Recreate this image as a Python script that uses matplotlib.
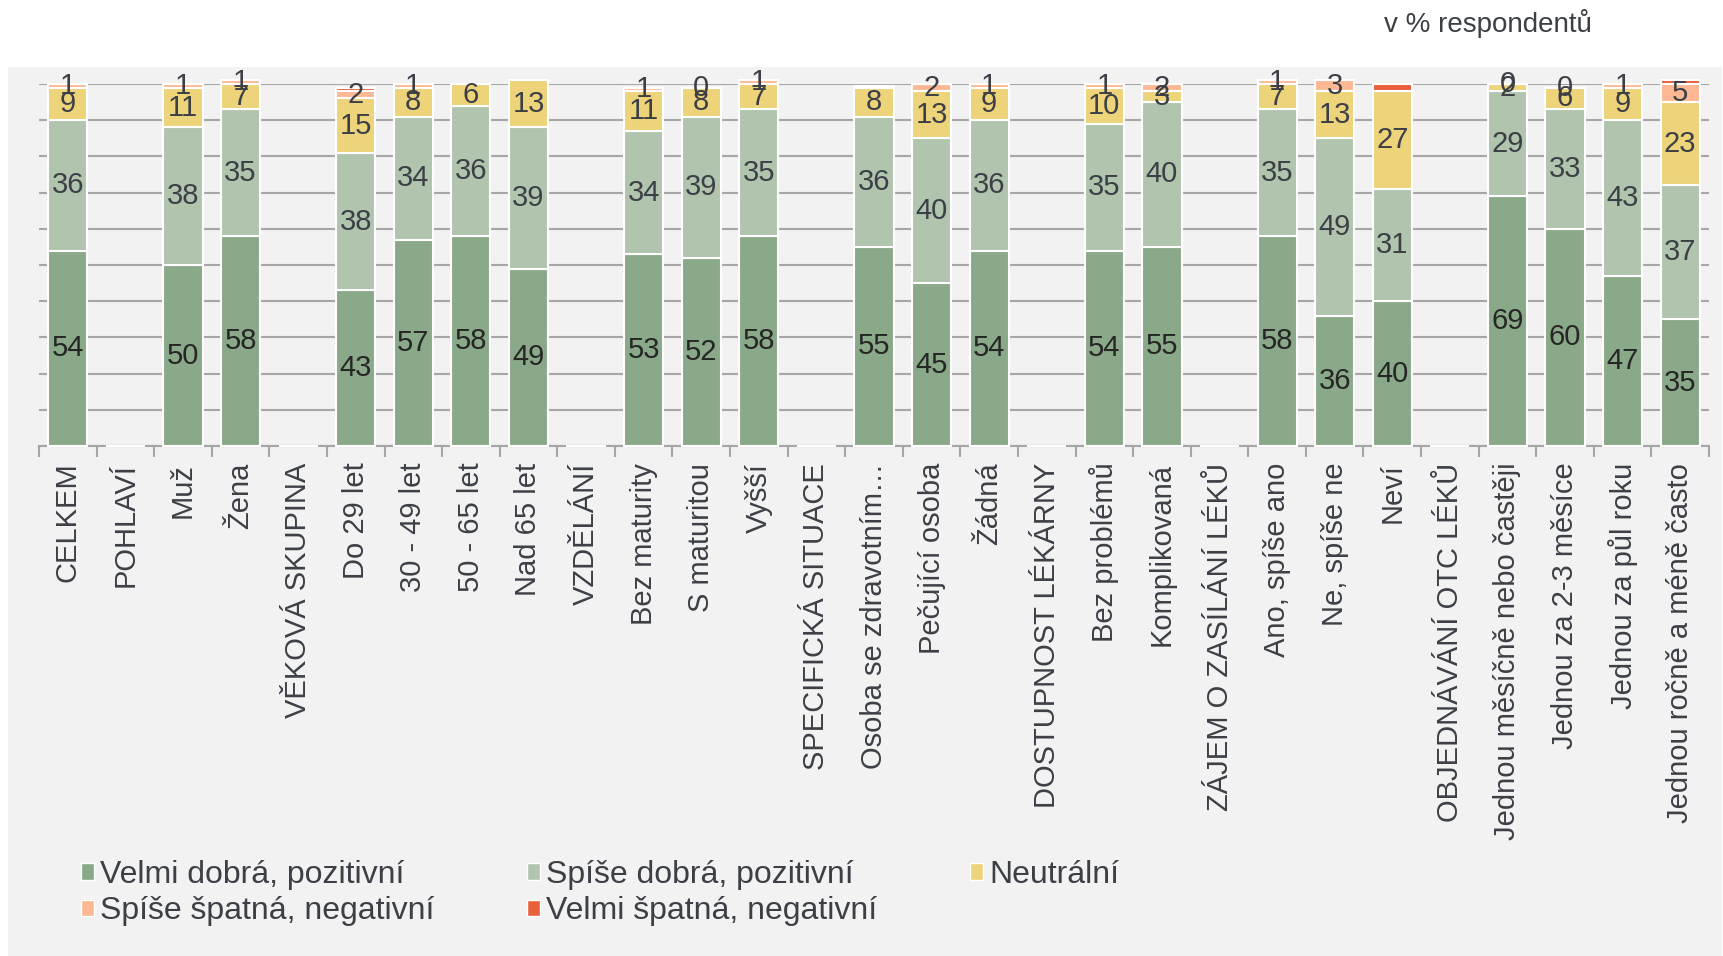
import numpy as np
import matplotlib.pyplot as plt
from matplotlib.patches import Rectangle, Patch

plt.rcParams['font.family'] = ['Liberation Sans', 'DejaVu Sans']

nan = np.nan
categories = ['CELKEM', 'POHLAVÍ', 'Muž', 'Žena', 'VĚKOVÁ SKUPINA', 'Do 29 let',
              '30 - 49 let', '50 - 65 let', 'Nad 65 let', 'VZDĚLÁNÍ', 'Bez maturity',
              'S maturitou', 'Vyšší', 'SPECIFICKÁ SITUACE', 'Osoba se zdravotním…',
              'Pečující osoba', 'Žádná', 'DOSTUPNOST LÉKÁRNY', 'Bez problémů',
              'Komplikovaná', 'ZÁJEM O ZASÍLÁNÍ LÉKŮ', 'Ano, spíše ano', 'Ne, spíše ne',
              'Neví', 'OBJEDNÁVÁNÍ OTC LÉKŮ', 'Jednou měsíčně nebo častěji',
              'Jednou za 2-3 měsíce', 'Jednou za půl roku', 'Jednou ročně a méně často']

velmi_dobra = [54, nan, 50, 58, nan, 43, 57, 58, 49, nan, 53, 52, 58, nan, 55, 45, 54,
               nan, 54, 55, nan, 58, 36, 40, nan, 69, 60, 47, 35]
spise_dobra = [36, nan, 38, 35, nan, 38, 34, 36, 39, nan, 34, 39, 35, nan, 36, 40, 36,
               nan, 35, 40, nan, 35, 49, 31, nan, 29, 33, 43, 37]
neutralni = [9, nan, 11, 7, nan, 15, 8, 6, 13, nan, 11, 8, 7, nan, 8, 13, 9,
             nan, 10, 3, nan, 7, 13, 27, nan, 2, 6, 9, 23]
spise_spatna = [1, nan, 1, 1, nan, 2, 1, nan, nan, nan, 1, 0, 1, nan, nan, 2, 1,
                nan, 1, 2, nan, 1, 3, nan, nan, 0, 0, 1, 5]
velmi_spatna = [0, nan, 0, 0, nan, 1, 0, 0, 0, nan, 0, 0, 0, nan, 0.5, 0, 0,
                nan, 0, 0, nan, 0, 0, 2, nan, 0, 0, 0, 1]

series = ['Velmi dobrá, pozitivní', 'Spíše dobrá, pozitivní', 'Neutrální',
          'Spíše špatná, negativní', 'Velmi špatná, negativní']
colors = ['#8aa989', '#b0c4ae', '#edd37a', '#fdb893', '#e8603c']
show_labels = [True, True, True, True, False]
label_colors = ['#262626', '#3c4046', '#3c4046', '#3c4046', '#3c4046']

W, H = 1724, 956
fig = plt.figure(figsize=(W / 100, H / 100), dpi=100)
fig.patch.set_facecolor('white')
fig.patches.append(Rectangle((8 / W, 0), (1722 - 8) / W, (956 - 67) / H,
                             transform=fig.transFigure, facecolor='#f2f2f2',
                             edgecolor='none', zorder=-10))

ax = fig.add_axes([39 / W, 1 - 446 / H, (1709 - 39) / W, (446 - 84) / H])
ax.set_facecolor('#f2f2f2')

x = np.arange(len(categories))
bottom = np.zeros(len(categories))
for vals, name, col, lab, tcol in zip(
        [velmi_dobra, spise_dobra, neutralni, spise_spatna, velmi_spatna],
        series, colors, show_labels, label_colors):
    v = np.array(vals, dtype=float)
    h = np.nan_to_num(v)
    ax.bar(x, h, bottom=bottom, width=0.68, color=col, edgecolor='white',
           linewidth=1.5, zorder=3, clip_on=False, label=name)
    if lab:
        for i in range(len(x)):
            if not np.isnan(v[i]):
                ax.text(x[i], bottom[i] + h[i] / 2, f'{v[i]:.0f}', ha='center',
                        va='center', fontsize=21, color=tcol, zorder=5)
    bottom += h

ax.set_ylim(0, 100)
ax.set_xlim(-0.5, len(categories) - 0.5)
ax.set_yticks(np.arange(0, 101, 10))
ax.yaxis.grid(True, color='#a6a6a6', linewidth=1.5, zorder=1)
ax.tick_params(axis='y', left=False, labelleft=False)
for s in ['left', 'right', 'top']:
    ax.spines[s].set_visible(False)
ax.spines['bottom'].set_color('#a6a6a6')
ax.spines['bottom'].set_linewidth(1.5)

ax.set_xticks(x)
ax.set_xticklabels(categories, rotation=90, fontsize=21, color='#3c4046',
                   va='top', ha='center')
ax.tick_params(axis='x', length=0, pad=12)
ax.set_xticks(np.arange(-0.5, len(categories) + 0.5, 1), minor=True)
ax.tick_params(axis='x', which='minor', length=8, width=1.5, color='#a6a6a6')

handles = [Patch(facecolor=c, edgecolor='white', linewidth=1) for c in colors]
order = [0, 3, 1, 4, 2]
fig.legend([handles[i] for i in order], [series[i] for i in order],
           loc='upper left', bbox_to_anchor=(65 / W, 1 - 844 / H), ncol=3,
           frameon=False, fontsize=23, handlelength=0.4, handleheight=0.4,
           handletextpad=0.2, columnspacing=2.9, labelspacing=0.2, borderpad=0,
           labelcolor='#3c4046')

fig.text(1384 / W, 1 - 24 / H, 'v % respondentů', fontsize=20, color='#3c4046',
         ha='left', va='center')

fig.savefig('out.png', dpi=100)
